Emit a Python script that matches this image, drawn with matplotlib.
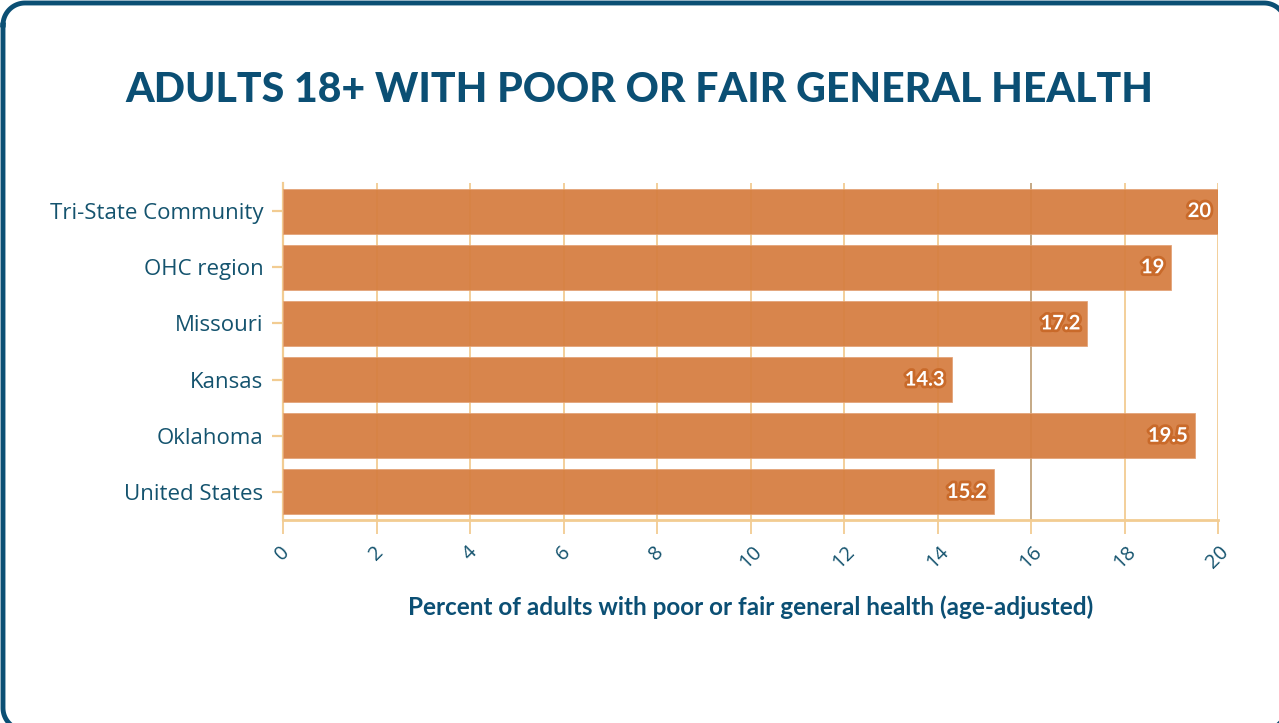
import numpy as np
import matplotlib.pyplot as plt
import matplotlib.patheffects as pe

# Values
CATEGORIES = ["Tri-State Community", "OHC region", "Missouri", "Kansas",
              "Oklahoma", "United States"]
VALUES = [20, 19, 17.2, 14.3, 19.5, 15.2]
LABELS = ["20", "19", "17.2", "14.3", "19.5", "15.2"]
XTICKS = [0, 2, 4, 6, 8, 10, 12, 14, 16, 18, 20]

TITLE = "ADULTS 18+ WITH POOR OR FAIR GENERAL HEALTH"
XLABEL = "Percent of adults with poor or fair general health (age-adjusted)"

NAVY = "#0b4f74"
TEXT = "#14536e"
BAR = "#d67f42"
BAR_EDGE = "#c96a2a"
GRID = "#f2cc92"

W, H = 1279, 723


def rounded_rect(x0, y0, x1, y1, r, n=24):
    # polyline outline (pixel coords, y down) -- agg mangles bezier corners
    # that run off the canvas, so build the arcs from straight segments
    pts = []
    for cx, cy, a0 in ((x0 + r, y0 + r, 180), (x1 - r, y0 + r, 270),
                       (x1 - r, y1 - r, 0), (x0 + r, y1 - r, 90)):
        t = np.radians(np.linspace(a0, a0 + 90, n))
        pts.append(np.column_stack([cx + r * np.cos(t), cy + r * np.sin(t)]))
    pts = np.vstack(pts + [pts[0][:1]])
    return pts[:, 0], pts[:, 1]


fig = plt.figure(figsize=(W / 100, H / 100), dpi=100)
fig.patch.set_facecolor("white")

# card frame; right and bottom edges run just off the canvas
bg = fig.add_axes([0, 0, 1, 1])
bg.set_xlim(0, W)
bg.set_ylim(H, 0)
bg.axis("off")
fx, fy = rounded_rect(3, 3, W + 7, H + 7, 22)
bg.plot(fx, fy, color=NAVY, linewidth=3.5, solid_joinstyle="round")

ax = fig.add_axes([283 / W, 1 - 520 / H, (1218 - 283) / W, (520 - 183) / H])
ypos = list(range(len(CATEGORIES)))
ax.barh(ypos, VALUES, height=0.8, color=BAR, alpha=0.95, zorder=3,
        edgecolor="#e3a277", linewidth=0.6)

for y, v, s in zip(ypos, VALUES, LABELS):
    ax.text(v - 0.15, y, s, ha="right", va="center", fontsize=14.5,
            fontweight="bold", family="Lato", color="white", zorder=5,
            path_effects=[pe.withStroke(linewidth=4, foreground=BAR_EDGE)])

ax.set_ylim(len(CATEGORIES) - 0.5, -0.5)
ax.set_xlim(0, 20)
ax.set_xticks(XTICKS)
ax.set_xticklabels([str(t) for t in XTICKS], rotation=45, ha="center",
                   va="top", family="Open Sans", fontsize=14.5, color=TEXT)
ax.set_yticks(ypos)
ax.set_yticklabels(CATEGORIES, family="Open Sans", fontsize=16, color=TEXT)

ax.grid(True, axis="x", color=GRID, linewidth=1.3, zorder=1)
ax.grid(False, axis="y")
ax.get_xgridlines()[XTICKS.index(16)].set_color("#c0a37c")
for side in ("top", "right"):
    ax.spines[side].set_visible(False)
ax.spines["left"].set_color(GRID)
ax.spines["left"].set_linewidth(1.6)
ax.spines["bottom"].set_color(GRID)
ax.spines["bottom"].set_linewidth(2)
ax.spines["bottom"].set_zorder(4)
ax.tick_params(axis="x", length=10, width=1.3, color=GRID, pad=6)
ax.tick_params(axis="y", length=8, width=1.6, color=GRID, pad=6)

ax.set_xlabel(XLABEL, family="Lato", fontweight="bold", fontsize=17.5,
              color=NAVY, labelpad=16)

fig.text(0.5, 1 - 90 / H, TITLE, ha="center", va="center",
         family="Lato", fontweight="black", fontsize=29.5, color=NAVY)

fig.savefig("out.png", dpi=100, facecolor="white")
